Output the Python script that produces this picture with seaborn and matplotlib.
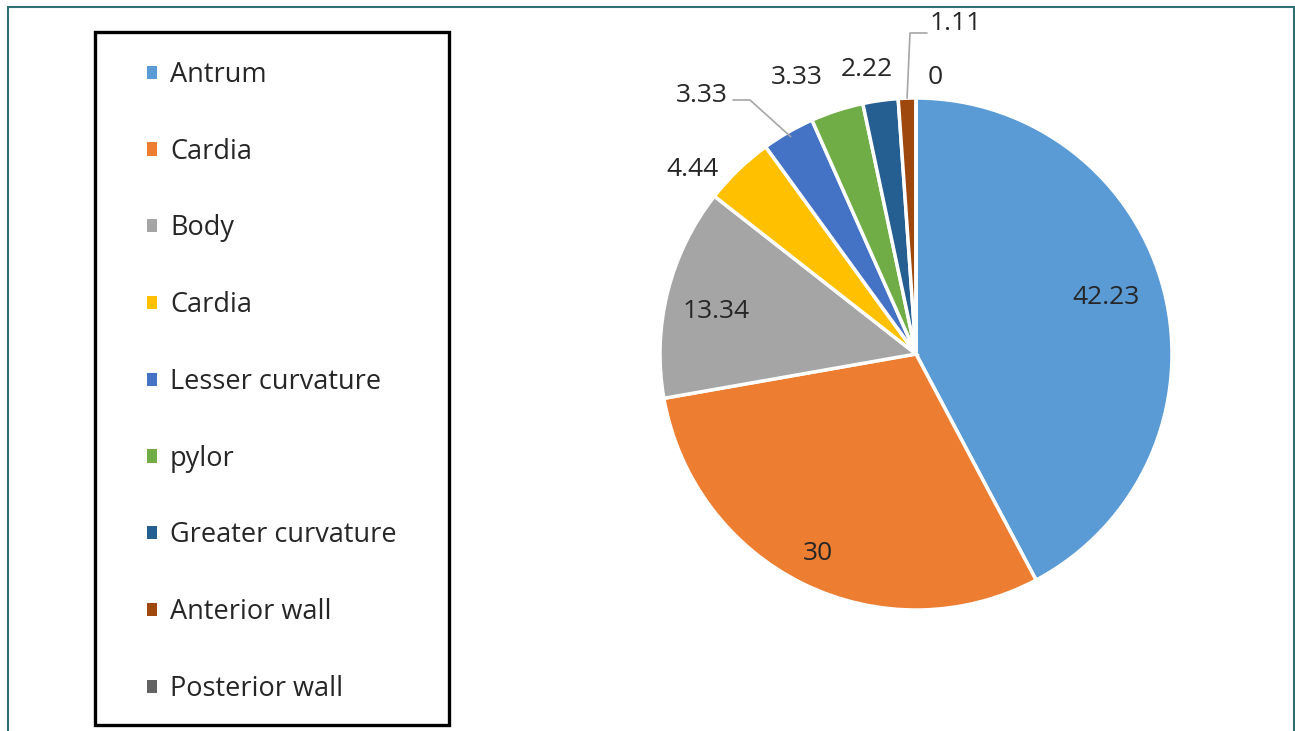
import matplotlib
matplotlib.use("Agg")
import matplotlib.pyplot as plt
import matplotlib.patches as mpatches
import numpy as np
import seaborn as sns

categories = ["Antrum", "Cardia", "Body", "Cardia", "Lesser curvature",
              "pylor", "Greater curvature", "Anterior wall", "Posterior wall"]
values = [42.23, 30, 13.34, 4.44, 3.33, 3.33, 2.22, 1.11, 0]
value_labels = ["42.23", "30", "13.34", "4.44", "3.33", "3.33", "2.22", "1.11", "0"]
colors = ["#5B9BD5", "#ED7D31", "#A5A5A5", "#FFC000", "#4472C4",
          "#70AD47", "#255E91", "#9E480E", "#636363"]

sns.set_theme(style="white")
plt.rcParams["font.family"] = ["Open Sans", "DejaVu Sans"]

W, H = 1295, 731
fig = plt.figure(figsize=(W / 100, H / 100), dpi=100)

# pie geometry (pixels)
cx, cy, R = 916, 354, 256
L = 1.4
side = 2 * L * R
ax = fig.add_axes([(cx - side / 2) / W, (H - cy - side / 2) / H, side / W, side / H])
wedges, _ = ax.pie(values, colors=colors, startangle=90, counterclock=False,
                   radius=1, wedgeprops=dict(edgecolor="white", linewidth=2.5))
ax.set_xlim(-L, L)
ax.set_ylim(-L, L)
ax.set_aspect("equal")
ax.axis("off")

def to_data(px, py):
    return ((px - cx) / R, (cy - py) / R)

label_px = [(1106, 298), (818, 553), (716, 312), (692, 170), (702, 95),
            (797, 78), (867, 69), (956, 23), (935, 77)]
txt_color = "#262626"
for lab, (px, py) in zip(value_labels, label_px):
    x, y = to_data(px, py)
    ax.text(x, y, lab, ha="center", va="center", fontsize=19, color=txt_color,
            clip_on=False)

def wedge_point(i, r=1.0):
    w = wedges[i]
    ang = np.deg2rad((w.theta1 + w.theta2) / 2)
    return (r * np.cos(ang), r * np.sin(ang))

# leader lines
lc = "#A6A6A6"
p_end = wedge_point(4, 0.98)
a = to_data(733, 100)
b = to_data(750, 100)
ax.plot([a[0], b[0], p_end[0]], [a[1], b[1], p_end[1]], color=lc, lw=1.2, clip_on=False)
p_end = wedge_point(7, 1.0)
a = to_data(927, 33)
b = to_data(910, 33)
ax.plot([a[0], b[0], p_end[0]], [a[1], b[1], p_end[1]], color=lc, lw=1.2, clip_on=False)

# legend box
fig.add_artist(mpatches.Rectangle((95 / W, 1 - 725 / H), (449 - 95) / W, (725 - 32) / H,
                                  transform=fig.transFigure, fill=False,
                                  edgecolor="black", linewidth=2.4))
handles = [mpatches.Patch(facecolor=c, edgecolor="none") for c in colors]
leg = fig.legend(handles, categories, loc="upper left",
                 bbox_to_anchor=(147 / W, 1 - 61 / H), frameon=False,
                 fontsize=19.5, handlelength=0.37, handleheight=0.37,
                 handletextpad=0.48, labelspacing=1.8, borderaxespad=0,
                 borderpad=0)
for t in leg.get_texts():
    t.set_color(txt_color)

# outer border
fig.add_artist(mpatches.Rectangle((8 / W, -0.05), (1294 - 8) / W, 1 - 7 / H + 0.05,
                                  transform=fig.transFigure, fill=False,
                                  edgecolor="#2F6F73", linewidth=1.5))

fig.savefig("out.png", dpi=100)
